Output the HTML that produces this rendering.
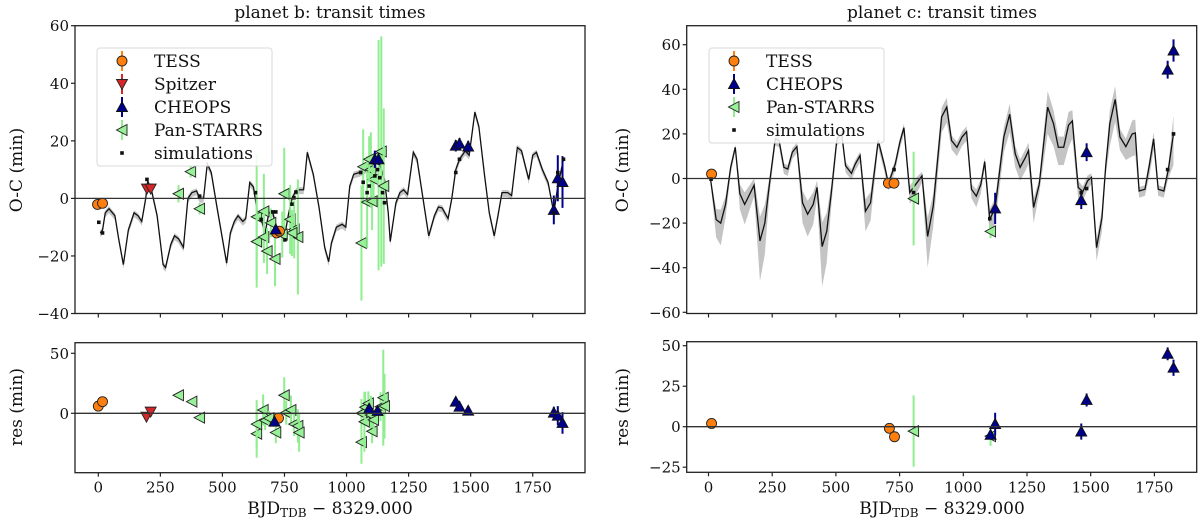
<!DOCTYPE html>
<html><head><meta charset="utf-8">
<style>
html,body{margin:0;padding:0;background:#fff;}
svg{display:block;font-family:"DejaVu Serif","Liberation Serif",serif;}
</style></head>
<body>
<svg id="fig" width="1200" height="522" viewBox="0 0 1200 522" xmlns="http://www.w3.org/2000/svg"></svg>
<script>
// ---------- data: planet b ----------
const bModelX=[8,17,28,43,67,82,101,121,144,160,175,191,199,214,237,261,271,292,307,323,343,361,377,396,408,424,439,455,478,517,532,548,563,582,594,610,625,641,656,672,687,703,718,734,749,765,780,796,811,827,842,866,889,912,928,939,959,982,997,1013,1029,1052,1067,1091,1122,1137,1153,1168,1176,1199,1215,1230,1246,1269,1284,1308,1331,1354,1370,1385,1409,1424,1440,1455,1478,1494,1517,1533,1556,1575,1595,1610,1626,1649,1665,1688,1705,1734,1750,1765,1789,1812,1835,1851,1874];
const bModelY=[-12,-11,-5,-3.6,-6,-14,-23,-11,-5,-6,-8,0,6,3,-6,-23,-24,-16,-13,-14,-17,0,2,2.6,0,0,12,9,-3,-22.5,-12,-8,-6,-8,-7,5.5,4,-5,-7,-12,-5,-5,-10,-12,-14,-6,0,2.6,3,3,16,8.4,-3,-17,-22,-15.5,-10,-9,-10,4.3,8.4,9,9.6,11,13.6,11,6.6,-5,-15,-1.5,2,3,1.4,16,13.6,0,-13,-6,-3,-3.3,-7,0,10,13.6,16.5,15,30,25,8,-5,-13,-6,2,2,1,17.7,16.5,6.6,15,16,10,5.5,-5,4.3,13.6];
const bTessX=[-3,17,718,730], bTessY=[-2.1,-1.7,-12,-11.4], bTessRX=[0,17,726], bTessRY=[6,9.7,-4];
const bSpitX=[196,211], bSpitY=[3.4,3.4], bSpitRX=[194,211], bSpitRY=[-2.8,1.4];
const bCheX=[715,1114,1129,1440,1455,1490,1835,1851,1870];
const bCheY=[-10.8,13.6,13.6,18.3,19,18,-4,7,5.7];
const bCheE=[1.5,3,2,2,2,2,5,8,9];
const bCheRX=[710,1091,1125,1440,1455,1490,1835,1851,1870];
const bCheRY=[-7,4,2,9.7,5.5,2.2,0.5,-2,-8];
const bPanX=[323,372,408,638,638,667,667,680,695,712,749,773,789,804,780,741,1060,1067,1083,1098,1103,1109,1129,1140,1150,1091];
const bPanY=[1.6,9.3,-3.6,-6.4,-15,-4.5,-13.4,-18.3,-8.5,-21,1.6,-7.3,-10.8,-13.4,-12,-12.6,-15.5,11,-1.3,10,-1,6.6,15,16.3,4.3,13.6];
const bPanE=[3,2,2,22,16,13,9,8,5,9.5,16,12,10,20,8,8,20,13,16,13,10,8,40,40,27,8];
const bPanRX=[323,377,408,638,638,664,672,687,715,749,757,776,789,804,809,1060,1060,1072,1075,1088,1098,1103,1109,1137,1148,1153];
const bPanRY=[15,9.7,-3.6,-17,-9,2.8,-6,-4,-16,15,0.6,2.8,-9,-10.5,-16,0,-24,-7,5,8.3,-1.4,-15,-5.5,5.5,13,6];
const bPanRE=[2,2,2,20,20,13,8,6,9,15,10,12,10,14,16,12,18,25,13,10,16,10,8,12,40,27];
const bSimX=[2,17,196,408,633,656,703,715,752,780,788,796,1057,1067,1083,1091,1114,1125,1134,1145,1153,1440,1455,1835,1851,1874];
const bSimY=[-8.3,-12,6.6,0.8,2,-7.3,-4.7,-4.7,-14.4,-2,0.2,2.2,9,5.6,2,4.3,7.8,10,7.2,2,-1.5,9,13.6,-5,9,13.6];
// ---------- data: planet c ----------
const cModelX=[7,30,48,67,87,105,123,142,179,202,221,239,262,277,296,311,329,347,369,389,411,426,446,464,482,504,523,538,561,576,595,616,636,666,691,706,733,751,767,790,811,838,860,882,915,935,954,975,995,1013,1032,1051,1069,1084,1104,1125,1159,1182,1204,1223,1244,1256,1276,1298,1331,1354,1373,1394,1413,1428,1451,1469,1488,1503,1523,1544,1559,1575,1596,1615,1638,1663,1675,1690,1713,1731,1747,1765,1787,1805,1825];
const cModelY=[0.5,-18.4,-20,-11.6,5,14,-6.8,-11.6,-3,-28,-20,-2.6,17.8,17,5,4.2,11.8,14.3,-10.9,-16,-11.6,-4,-30.5,-23.7,-6.3,17.8,20,5.7,2.3,6.5,10.3,-14.7,-10.9,17,5.7,-2.3,6.5,16.3,22.8,-6.3,-3,1.2,-26,-12.4,27.6,32,17,14,18.6,21,-4.8,-7.9,-2.6,7.6,-18.4,-13.1,18.6,28.8,11,5,9.5,12.5,-13,-2.6,32,24.6,14,14,23.9,25.8,-4,-5.9,-1,0.5,-31,-17.7,5.7,24.6,35.5,18.6,14.3,20,20.4,-5.6,-4.8,6.5,17.8,-4.8,-5.6,4.2,20];
const cModelSpread=[1,8,10,6,3,2,7,9,5,18,14,5,3,3,3,3,3,3,9,10,9,5,18,14,6,3,3,3,3,3,3,9,8,3,3,3,3,3,3,5,5,3,14,9,7,7,4,4,4,4,4,5,4,3,8,7,7,8,6,6,6,6,7,4,12,10,8,8,10,8,5,4,4,3,6,6,4,10,10,6,6,10,10,3,3,5,5,3,3,4,14];
const cTessX=[12,706,728], cTessY=[2,-2.1,-2.1], cTessRX=[12,710,730], cTessRY=[2,-1,-6.2];
const cCheX=[1125,1463,1484,1802,1825], cCheY=[-13.4,-9.7,11.8,48.8,57.4], cCheE=[7,4,4,4,5];
const cCheRX=[1107,1125,1463,1484,1802,1825], cCheRY=[-5,1.6,-3,16.5,45,36.4], cCheRE=[1,7,5,4,4,5];
const cPanX=[805,1107], cPanY=[-9,-23.7], cPanE=[21,3], cPanRY=[-2.7,-5.8], cPanRE=[22,6];
const cSimX=[10,728,805,1104,1463,1484,1802,1825], cSimY=[-0.3,4,-6.3,-18,-6.3,-4.5,4,20];
const xTicks=[0,250,500,750,1000,1250,1500,1750];
const bTopTicks=[-40,-20,0,20,40,60], bResTicks=[0,50];
const cTopTicks=[-60,-40,-20,0,20,40,60], cResTicks=[-25,0,25,50];

// ---------- drawing ----------
const NS='http://www.w3.org/2000/svg';
const svg=document.getElementById('fig');
function mk(tag,attrs,parent,text){const e=document.createElementNS(NS,tag);for(const k in attrs)e.setAttribute(k,attrs[k]);if(text!==undefined)e.textContent=text;(parent||svg).appendChild(e);return e;}
function axis(cfg){
  const g=mk('g',{});
  
  
  const X=d=>cfg.x0+d*cfg.kx, Y=v=>cfg.y0-v*cfg.ky;
  const clipId=cfg.name+'-clip';
  const cp=mk('clipPath',{id:clipId},g);
  mk('rect',{x:cfg.l,y:cfg.t,width:cfg.r-cfg.l,height:cfg.b-cfg.t},cp);
  const plot=mk('g',{'clip-path':'url(#'+clipId+')'},g);
  return {g,plot,X,Y,cfg};
}
function frame(a,yTicks,xLabels){
  const c=a.cfg,g=a.g;
  mk('line',{x1:c.l,x2:c.r,y1:a.Y(0),y2:a.Y(0),stroke:'#333',"stroke-width":1.3},a.plot);
  const fr=mk('rect',{x:c.l,y:c.t,width:c.r-c.l,height:c.b-c.t,fill:'none',stroke:'#222',"stroke-width":1.3},g);
  
  
  xTicks.forEach(t=>{
    const x=a.X(t);
    mk('line',{x1:x,x2:x,y1:c.b,y2:c.b+4,stroke:'#222',"stroke-width":1.2},g);
    if(xLabels){const tx=mk('text',{x:x,y:c.b+20,'text-anchor':'middle','font-size':15,fill:'#111'},g,String(t));
      
      }
  });
  yTicks.forEach(t=>{
    const y=a.Y(t);
    mk('line',{x1:c.l-4,x2:c.l,y1:y,y2:y,stroke:'#222',"stroke-width":1.2},g);
    const tx=mk('text',{x:c.l-6,y:y+5.5,'text-anchor':'end','font-size':15,fill:'#111'},g,(t<0?'\u2212'+(-t):String(t)));
    
    
  });
}
function err(p,x,y,e,color,w){mk('line',{x1:x,x2:x,y1:y-e,y2:y+e,stroke:color,"stroke-width":w||2},p);}
function marker(p,type,x,y,name){
  let el;
  if(type==='o')el=mk('circle',{cx:x,cy:y,r:5,fill:'#ff7f0e',stroke:'#222',"stroke-width":0.9},p);
  else if(type==='v')el=mk('polygon',{points:`${x-5.5},${y-4.5} ${x+5.5},${y-4.5} ${x},${y+5.5}`,fill:'#d62728',stroke:'#222',"stroke-width":0.9},p);
  else if(type==='^')el=mk('polygon',{points:`${x-5.5},${y+4.5} ${x+5.5},${y+4.5} ${x},${y-5.5}`,fill:'#00008b',stroke:'#111',"stroke-width":0.9},p);
  else if(type==='<')el=mk('polygon',{points:`${x+5},${y-5.5} ${x+5},${y+5.5} ${x-5.5},${y}`,fill:'#98f098',stroke:'#222',"stroke-width":0.9},p);
  else el=mk('rect',{x:x-1.8,y:y-1.8,width:3.6,height:3.6,fill:'#111'},p);
  
  
  return el;
}
function series(a,type,xs,ys,es,errColor,name){
  xs.forEach((d,i)=>{
    const x=a.X(d),y=a.Y(ys[i]);
    if(es&&es[i])err(a.plot,x,y,es[i]*a.cfg.ky,errColor,2);
    marker(a.plot,type,x,y,name);
  });
}
function model(a,xs,ys,spread,name){
  const up=xs.map((d,i)=>a.X(d)+','+a.Y(ys[i]+spread[i]*0.6));
  const dn=xs.map((d,i)=>a.X(d)+','+a.Y(ys[i]-spread[i])).reverse();
  const band=mk('polygon',{points:up.concat(dn).join(' '),fill:'#c4c4c4',stroke:'none'},a.plot);
  
  
  const ln=mk('polyline',{points:xs.map((d,i)=>a.X(d)+','+a.Y(ys[i])).join(' '),fill:'none',stroke:'#111',"stroke-width":1.3},a.plot);
  
  
}
function label(x,y,txt,size,rot,name){
  const t=mk('text',{x:x,y:y,'text-anchor':'middle','font-size':size,fill:'#111',transform:rot?`rotate(-90 ${x} ${y})`:''},svg,txt);
  
  
  return t;
}
function legend(x,y,w,h,entries,name){
  const g=mk('g',{});
  
  
  mk('rect',{x:x,y:y,width:w,height:h,rx:3,fill:'#fff','fill-opacity':0.85,stroke:'#d8d8d8'},g);
  entries.forEach((e,i)=>{
    const cy=y+13+i*23, mx=x+25;
    if(e.c)mk('line',{x1:mx,x2:mx,y1:cy-10,y2:cy+10,stroke:e.c,"stroke-width":2},g);
    marker(g,e.t,mx,cy,'legend-marker');
    const t=mk('text',{x:x+57,y:cy+6,'font-size':17,fill:'#111'},g,e.l);
    
    
  });
}

const kxL=62.06/250, kxR=63.7/250;
const bTop=axis({name:'planet-b-oc-axes',x0:98.3,kx:kxL,y0:198.4,ky:2.878,l:75,r:585,t:25.7,b:313.5});
const bRes=axis({name:'planet-b-res-axes',x0:98.3,kx:kxL,y0:413.3,ky:1.2,l:75,r:585,t:342.7,b:472.7});
const cTop=axis({name:'planet-c-oc-axes',x0:708.5,kx:kxR,y0:178.5,ky:2.23,l:686.7,r:1196.7,t:25.7,b:313.5});
const cRes=axis({name:'planet-c-res-axes',x0:708.5,kx:kxR,y0:426.7,ky:1.62,l:686.7,r:1196.7,t:341.7,b:472.3});

model(bTop,bModelX,bModelY,bModelX.map(()=>1.5),'planet-b-model');
series(bTop,'<',bPanX,bPanY,bPanE,'#90ee90','panstarrs-point');
series(bTop,'o',bTessX,bTessY,null,'#ff7f0e','tess-point');
series(bTop,'v',bSpitX,bSpitY,null,'#d62728','spitzer-point');
series(bTop,'^',bCheX,bCheY,bCheE,'#00008b','cheops-point');
series(bTop,'s',bSimX,bSimY,null,null,'simulation-point');
frame(bTop,bTopTicks,false);
series(bRes,'<',bPanRX,bPanRY,bPanRE,'#90ee90','panstarrs-residual');
series(bRes,'o',bTessRX,bTessRY,null,'#ff7f0e','tess-residual');
series(bRes,'v',bSpitRX,bSpitRY,null,'#d62728','spitzer-residual');
series(bRes,'^',bCheRX,bCheRY,bCheE,'#00008b','cheops-residual');
frame(bRes,bResTicks,true);
model(cTop,cModelX,cModelY,cModelSpread,'planet-c-model');
series(cTop,'<',cPanX,cPanY,cPanE,'#90ee90','panstarrs-point');
series(cTop,'o',cTessX,cTessY,null,'#ff7f0e','tess-point');
series(cTop,'^',cCheX,cCheY,cCheE,'#00008b','cheops-point');
series(cTop,'s',cSimX,cSimY,null,null,'simulation-point');
frame(cTop,cTopTicks,false);
series(cRes,'<',cPanX,cPanRY,cPanRE,'#90ee90','panstarrs-residual');
series(cRes,'o',cTessRX,cTessRY,null,'#ff7f0e','tess-residual');
series(cRes,'^',cCheRX,cCheRY,cCheRE,'#00008b','cheops-residual');
frame(cRes,cResTicks,true);

legend(97,48,175,118,[{t:'o',c:'#ff7f0e',l:'TESS'},{t:'v',c:'#d62728',l:'Spitzer'},{t:'^',c:'#00008b',l:'CHEOPS'},{t:'<',c:'#90ee90',l:'Pan-STARRS'},{t:'s',l:'simulations'}],'planet-b-legend');
legend(709,48,175,95,[{t:'o',c:'#ff7f0e',l:'TESS'},{t:'^',c:'#00008b',l:'CHEOPS'},{t:'<',c:'#90ee90',l:'Pan-STARRS'},{t:'s',l:'simulations'}],'planet-c-legend');

label(330,18,'planet b: transit times',17,false,'planet-b-title');
label(942,18,'planet c: transit times',17,false,'planet-c-title');
label(22,170,'O-C (min)',17,true,'planet-b-y-axis-title');
label(628,170,'O-C (min)',17,true,'planet-c-y-axis-title');
label(22,407,'res (min)',17,true,'planet-b-res-axis-title');
label(628,407,'res (min)',17,true,'planet-c-res-axis-title');
function xlab(cx,name){
  const t=mk('text',{x:cx,y:514,'text-anchor':'middle','font-size':17,fill:'#111'});
  
  
  mk('tspan',{},t,'BJD');
  mk('tspan',{'font-size':12,dy:3},t,'TDB');
  mk('tspan',{dy:-3},t,' \u2212 8329.000');
}
xlab(330,'planet-b-x-axis-title');
xlab(942,'planet-c-x-axis-title');
</script>
</body></html>
